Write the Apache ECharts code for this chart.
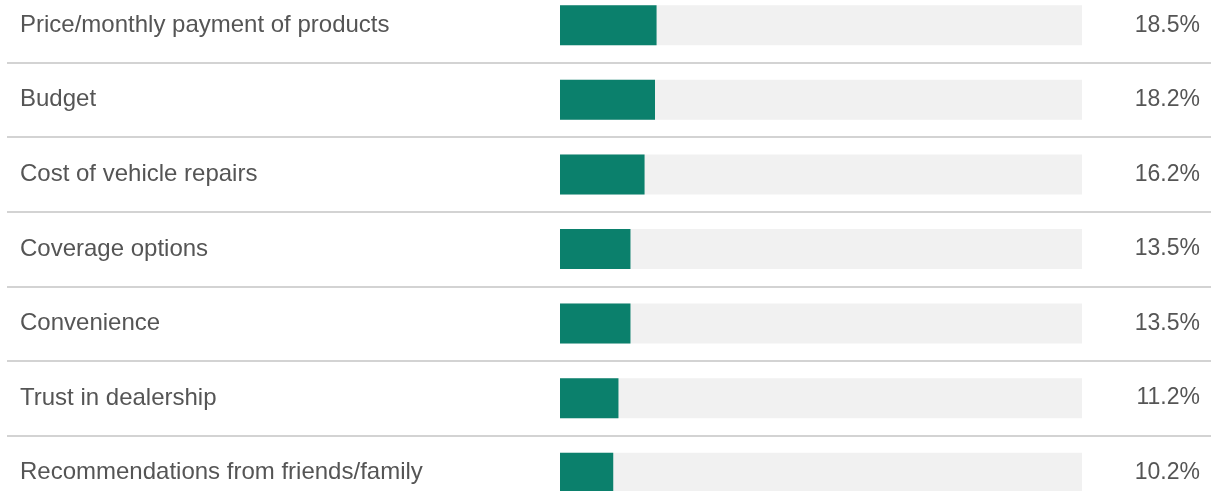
<!DOCTYPE html>
<html><head><meta charset="utf-8">
<script src="https://cdn.jsdelivr.net/npm/echarts@6/dist/echarts.min.js"></script>
<style>html,body{margin:0;padding:0;background:#fff;overflow:hidden;width:1211px;height:491px;position:relative}#c{position:absolute;left:0;top:-12px;width:1211px;height:522px}</style>
</head><body><div id="c"></div>
<script>
const categories = ["Price/monthly payment of products","Budget","Cost of vehicle repairs","Coverage options","Convenience","Trust in dealership","Recommendations from friends/family"];
const values = [18.5, 18.2, 16.2, 13.5, 13.5, 11.2, 10.2];
const valueLabels = values.map(v => v.toFixed(1) + '%');

const chart = echarts.init(document.getElementById('c'), null, {renderer:'canvas'});
const FONT = 'Liberation Sans, Arial, sans-serif';
chart.setOption({
  animation:false,
  grid:[
    {left:7, right:0, top:0, bottom:0},
    {left:560, width:522, top:0, bottom:0}
  ],
  xAxis:[
    {gridIndex:0, type:'value', show:false, min:0, max:100},
    {gridIndex:1, type:'value', show:false, min:0, max:100}
  ],
  yAxis:[
    {gridIndex:0, type:'category', inverse:true, data:categories,
     axisLine:{show:false}, axisTick:{show:false}, axisLabel:{show:false},
     splitLine:{show:true, lineStyle:{color:'#c4c4c4', width:1.5}}},
    {gridIndex:1, type:'category', inverse:true, data:categories,
     axisLine:{show:false}, axisTick:{show:false}, splitLine:{show:false},
     axisLabel:{show:true, align:'left', margin:540, color:'#555', fontSize:24, fontFamily:FONT}},
    {gridIndex:1, type:'category', inverse:true, position:'right', data:valueLabels,
     axisLine:{show:false}, axisTick:{show:false}, splitLine:{show:false},
     axisLabel:{show:true, align:'right', margin:118, color:'#555', fontSize:23, fontFamily:FONT}}
  ],
  series:[{
    type:'bar', xAxisIndex:1, yAxisIndex:1, data:values, barWidth:40,
    itemStyle:{color:'#0b806c'},
    showBackground:true, backgroundStyle:{color:'#f1f1f1'}
  }]
});
</script></body></html>
